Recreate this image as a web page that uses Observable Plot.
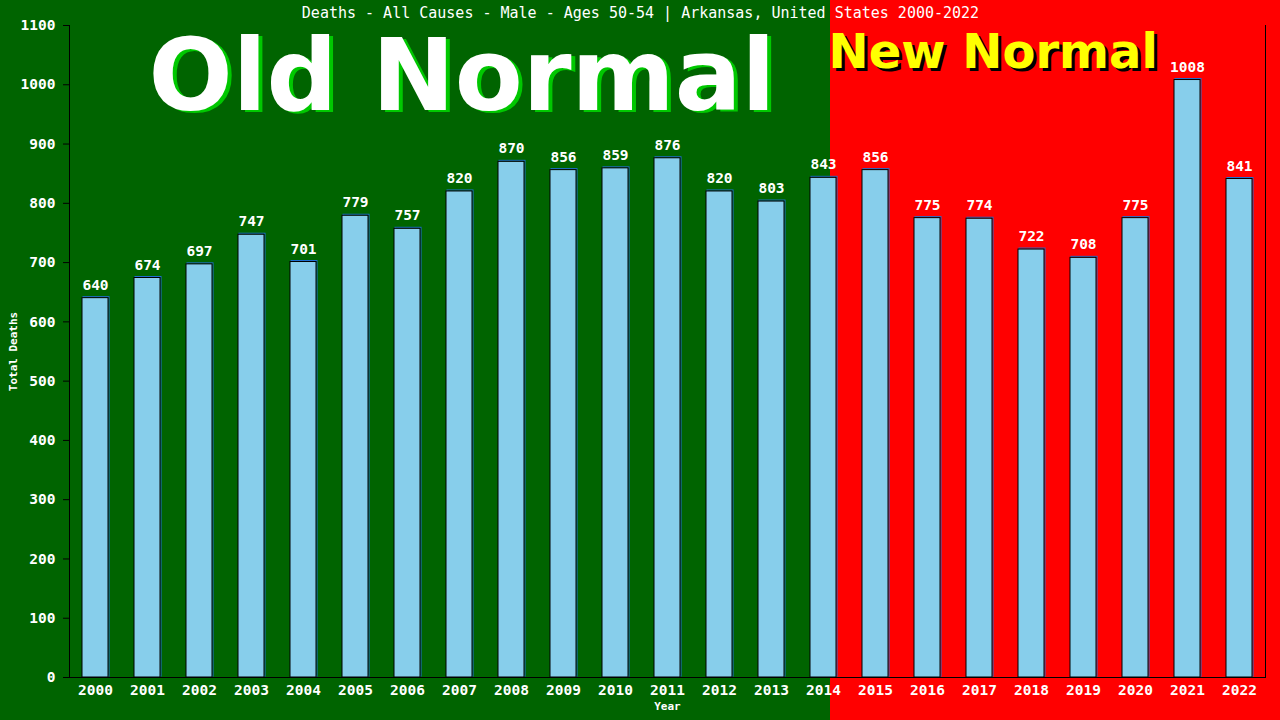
<!DOCTYPE html>
<html><head><meta charset="utf-8">
<script src="https://cdn.jsdelivr.net/npm/d3@7"></script>
<script src="https://cdn.jsdelivr.net/npm/@observablehq/plot@0.6"></script>
<style>
html,body{margin:0;padding:0;background:#006400;}
#chart svg{display:block;}
</style></head>
<body><div id="chart"></div>
<script>
const years = ["2000","2001","2002","2003","2004","2005","2006","2007","2008","2009","2010","2011","2012","2013","2014","2015","2016","2017","2018","2019","2020","2021","2022"];
const deaths = [640,674,697,747,701,779,757,820,870,856,859,876,820,803,843,856,775,774,722,708,775,1008,841];
const yTicks = [0,100,200,300,400,500,600,700,800,900,1000,1100];
const title = "Deaths - All Causes - Male - Ages 50-54 | Arkansas, United States 2000-2022";

const data = years.map((y,i)=>({year:y, value:deaths[i]}));
const mono = "'DejaVu Sans Mono', 'Liberation Mono', monospace";
const sans = "'DejaVu Sans', Verdana, sans-serif";

const chart = Plot.plot({
  width:1280, height:720,
  marginLeft:69, marginRight:15, marginTop:25, marginBottom:43,
  style:{background:"linear-gradient(to right,#006400 0px,#006400 830px,#ff0000 830px,#ff0000 100%)", fontFamily:mono, color:"white"},
  x:{domain:years, paddingInner:0.5, paddingOuter:0.25, label:null},
  y:{domain:[0,1100], label:null},
  marks:[
    Plot.ruleY([0],{stroke:"black"}),
    Plot.barY(data,{x:"year", y:"value", fill:"none", stroke:"#1f6fd0", dx:1, dy:-1}),
    Plot.barY(data,{x:"year", y:"value", fill:"#87ceeb", stroke:"black", strokeWidth:1}),
    Plot.text(data,{x:"year", y:"value", text:d=>String(d.value), dy:-13, fill:"white", fontSize:14.5, fontWeight:"bold", fontFamily:mono}),
    Plot.axisY({ticks:yTicks, tickFormat:d=>String(d), tickSize:6, stroke:"black", fill:"white", fontSize:14.5, fontWeight:"bold", tickPadding:8, label:null}),
    Plot.axisX({tickSize:0, fill:"white", fontSize:14.5, fontWeight:"bold", tickPadding:7, label:null}),
    Plot.frame({anchor:"left", stroke:"black"}),
    Plot.frame({anchor:"right", stroke:"black"}),
    Plot.text([title],{frameAnchor:"top", lineAnchor:"middle", dx:-27, dy:-12, fill:"white", fontSize:15, fontFamily:mono}),
    Plot.text(["Old Normal"],{frameAnchor:"top-left", dx:79+4, dy:14+2, fill:"#00c800", fontSize:99, fontWeight:"bold", fontFamily:sans, textAnchor:"start"}),
    Plot.text(["Old Normal"],{frameAnchor:"top-left", dx:79, dy:14, fill:"white", fontSize:99, fontWeight:"bold", fontFamily:sans, textAnchor:"start"}),
    Plot.text(["New Normal"],{frameAnchor:"top-left", dx:759+3, dy:8+3, fill:"black", fontSize:48, fontWeight:"bold", fontFamily:sans, textAnchor:"start"}),
    Plot.text(["New Normal"],{frameAnchor:"top-left", dx:759, dy:8, fill:"#ffff00", fontSize:48, fontWeight:"bold", fontFamily:sans, textAnchor:"start"}),
    Plot.text(["Total Deaths"],{frameAnchor:"left", dx:-56, rotate:-90, textAnchor:"middle", fill:"white", fontSize:11, fontWeight:"bold", fontFamily:mono}),
    Plot.text(["Year"],{frameAnchor:"bottom", dy:32, fill:"white", fontSize:11, fontWeight:"bold", fontFamily:mono})
  ]
});
document.getElementById("chart").append(chart);
</script></body></html>
